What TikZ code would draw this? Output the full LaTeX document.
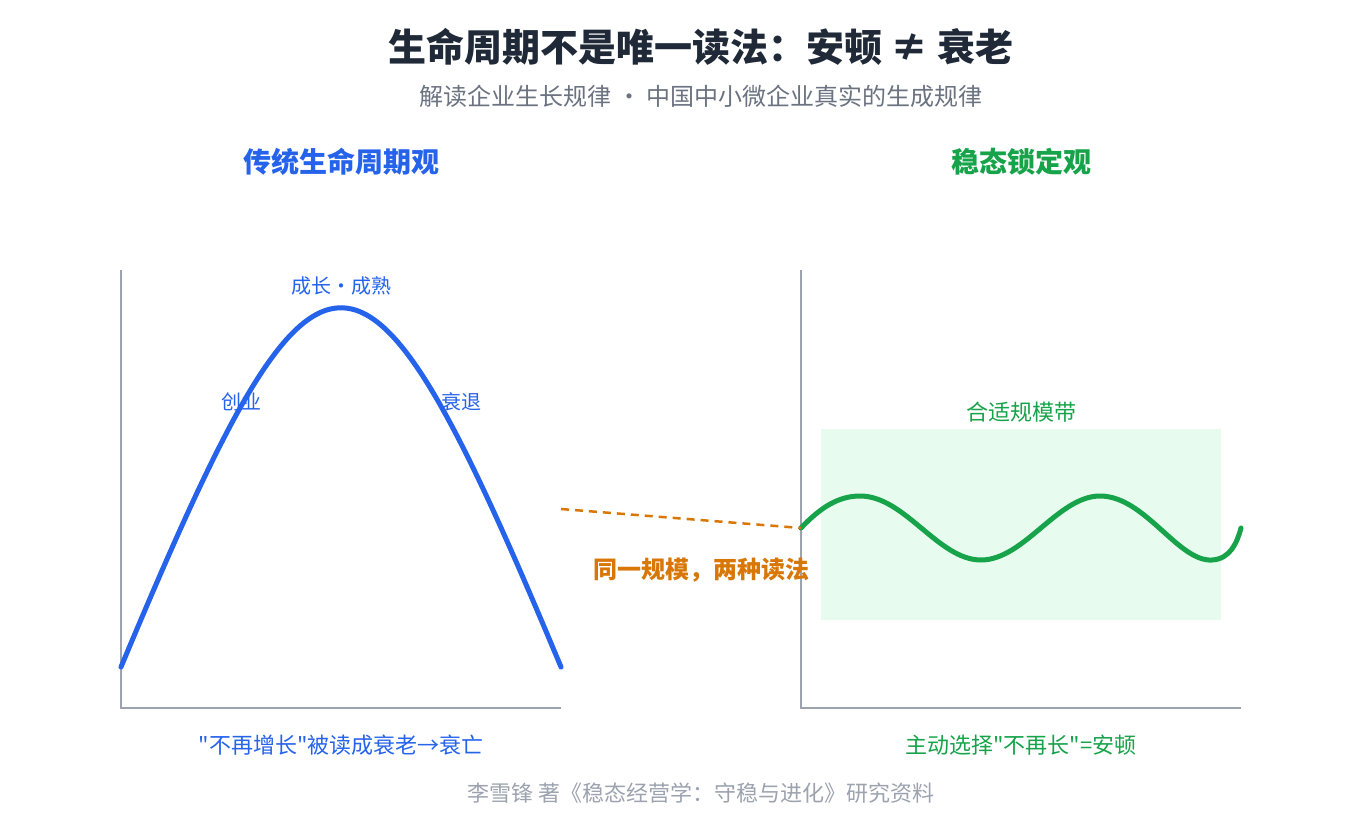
\documentclass[tikz,border=0pt]{standalone}
\usepackage{fontspec}
\setmainfont{Noto Sans CJK SC}
\newfontfamily\plainq{Noto Sans CJK SC}
\newcommand{\dq}{{\plainq "}}
\usetikzlibrary{calc}
\definecolor{cblue}{HTML}{2563EB}
\definecolor{cgreen}{HTML}{16A34A}
\definecolor{corange}{HTML}{D97706}
\definecolor{cdark}{HTML}{1F2937}
\definecolor{cgray}{HTML}{6B7280}
\definecolor{clight}{HTML}{9CA3AF}
\definecolor{cband}{HTML}{E8FBEF}
\tikzset{
  txt/.style={inner sep=0pt, anchor=center},
  axisline/.style={draw=clight, line width=2.5pt},
  curveblue/.style={draw=cblue, line width=5pt, line cap=round},
  curvegreen/.style={draw=cgreen, line width=5pt, line cap=round},
  linkline/.style={draw=corange, line width=2.5pt, dash pattern=on 8pt off 6pt},
}
\begin{document}
\begin{tikzpicture}[x=1pt,y=-1pt]
\useasboundingbox (0,0) rectangle (1360,830);
\fill[white] (0,0) rectangle (1360,830);
% titles
\node[txt, text=cdark, font=\fontsize{38}{42}\selectfont\bfseries] (title) at (701,47) {生命周期不是唯一读法：安顿 ≠ 衰老};
\node[txt, text=cgray, font=\fontsize{24}{28}\selectfont] (subtitle) at (701,96) {解读企业生长规律 · 中国中小微企业真实的生成规律};
\node[txt, text=cblue, font=\fontsize{28}{32}\selectfont\bfseries] (lt) at (341,162) {传统生命周期观};
\node[txt, text=cgreen, font=\fontsize{28}{32}\selectfont\bfseries] (rt) at (1021,162) {稳态锁定观};
% left axes
\coordinate (lo) at (121,708);
\coordinate (ltop) at (121,270);
\coordinate (lr) at (561,708);
\draw[axisline] (ltop) -- (lo) -- (lr);
% left curve
\coordinate (ls) at (121,667);
\coordinate (le) at (561,667);
\draw[curveblue] (ls) .. controls (321,188) and (361,188) .. (le);
\node[txt, text=cblue, font=\fontsize{20}{23}\selectfont] (peak) at (341,286) {成长·成熟};
\node[txt, text=cblue, font=\fontsize{20}{23}\selectfont] (start) at (241,402) {创业};
\node[txt, text=cblue, font=\fontsize{20}{23}\selectfont] (decl) at (461,402) {衰退};
\node[txt, text=cblue, font=\fontsize{22}{25}\selectfont] (lcap) at (341,745) {\dq 不再增长\dq 被读成衰老→衰亡};
% right axes
\coordinate (ro) at (801,708);
\coordinate (rtop) at (801,270);
\coordinate (rr) at (1241,708);
\fill[cband] (821,429) rectangle (1221,620);
\node[txt, text=cgreen, font=\fontsize{22}{25}\selectfont] (band) at (1021,412) {合适规模带};
\draw[axisline] (rtop) -- (ro) -- (rr);
% wave
\coordinate (ws) at (801,528);
\draw[curvegreen] (ws) .. controls (820,508) and (838,496) .. (860,496)
  .. controls (905,496) and (938,560) .. (981,560)
  .. controls (1024,560) and (1058,496) .. (1100,496)
  .. controls (1145,496) and (1178,562) .. (1212,560)
  .. controls (1230,559) and (1237,543) .. (1241,528);
\node[txt, text=cgreen, font=\fontsize{22}{25}\selectfont] (rcap) at (1021,745) {主动选择\dq 不再长\dq =安顿};
% link
\coordinate (lk) at (561,509);
\draw[linkline] (lk) -- (ws);
\node[txt, text=corange, font=\fontsize{24}{27}\selectfont\bfseries] (lnk) at (701,570) {同一规模，两种读法};
% footer
\node[txt, text=clight, font=\fontsize{22}{25}\selectfont] (foot) at (701,793) {李雪锋 著《稳态经营学：守稳与进化》研究资料};
\end{tikzpicture}
\end{document}
